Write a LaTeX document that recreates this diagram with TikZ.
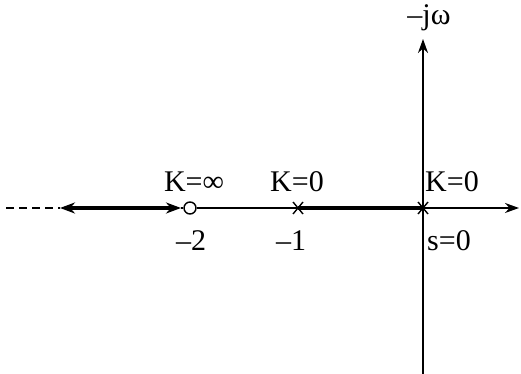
\documentclass[tikz,border=0pt]{standalone}
\usepackage{fontspec}
\setmainfont{Liberation Serif}
\usetikzlibrary{arrows.meta}
\usetikzlibrary{positioning}

\begin{document}
\begin{tikzpicture}[
  x=1pt, y=1pt,
  every node/.style={font=\fontsize{30}{34}\selectfont, inner sep=0pt},
  axis/.style={line width=1.8pt, -{Stealth[length=14pt,width=10pt]}},
  locus/.style={line width=3.6pt},
  pole/.style={line width=1.4pt}
]
\useasboundingbox (0,0) rectangle (521,374);

% axes
\coordinate (O) at (423,166);
\coordinate (xend) at (519,166);
\coordinate (ybot) at (423,0);
\coordinate (ytop) at (423,335);
\coordinate (P1) at (298,166);
\coordinate (far) at (60,166);
\coordinate (dash) at (6,166);
\coordinate (tip) at (181,166);

\node[circle, draw, line width=1.4pt, minimum size=12pt, fill=white] (Z) at (190,166) {};

\draw[axis] (Z.east) -- (xend);
\draw[axis] (ybot) -- (ytop);
\node (jw) at (429,356) {–jω};

% root locus
\draw[locus] (P1) -- (O);
\draw[locus, {Stealth[length=15pt,width=11pt]}-{Stealth[length=15pt,width=11pt]}] (far) -- (tip);
\draw[line width=1.8pt] (tip) -- (Z.west);
\draw[line width=1.8pt, dash pattern=on 8pt off 5pt] (dash) -- (far);

% poles
\foreach \p in {P1,O}
  \draw[pole] (\p) ++(-5,-6) -- ++(10,12) (\p) ++(-5,6) -- ++(10,-12);

% labels
\node (kinf) at (194,192) {K=∞};
\node (m2) at (191,133) {–2};
\node (k1) at (297,192) {K=0};
\node (m1) at (291,133) {–1};
\node[anchor=west] (k0) at (425,192) {K=0};
\node[anchor=west] (s0) at (427,133) {s=0};
\end{tikzpicture}
\end{document}
